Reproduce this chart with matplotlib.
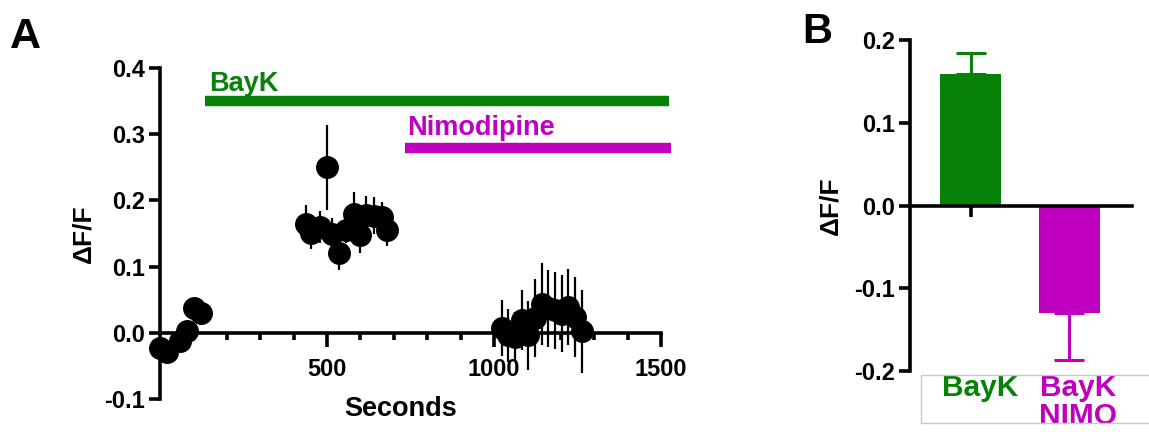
import numpy as np
import matplotlib.pyplot as plt
from matplotlib.patches import Rectangle

plt.rcParams['font.family'] = ['Liberation Sans', 'DejaVu Sans']
plt.rcParams['font.weight'] = 'bold'
plt.rcParams['axes.unicode_minus'] = False

GREEN = '#078107'
MAGENTA = '#bf00bf'

# panel A: time course (seconds, dF/F, sem)
t_base = [0, 20, 60, 80, 103, 124]
y_base = [-0.023, -0.029, -0.013, 0.002, 0.038, 0.030]

t_bayk = [437, 452, 480, 500, 516, 537, 558, 580, 600, 618, 640, 664, 680]
y_bayk = [0.164, 0.150, 0.160, 0.250, 0.149, 0.120, 0.156, 0.180, 0.148, 0.178, 0.177, 0.175, 0.156]
e_bayk = [0.029, 0.023, 0.024, 0.064, 0.025, 0.025, 0.020, 0.033, 0.028, 0.028, 0.028, 0.023, 0.025]

t_nimo = [1023, 1043, 1063, 1083, 1103, 1123, 1143, 1163, 1183, 1203, 1223, 1243, 1263]
y_nimo = [0.007, -0.004, -0.006, 0.019, -0.004, 0.022, 0.044, 0.037, 0.034, 0.029, 0.039, 0.024, 0.002]
e_nimo = [0.042, 0.040, 0.038, 0.045, 0.052, 0.059, 0.062, 0.058, 0.058, 0.058, 0.058, 0.060, 0.062]

# drug application bars: (start, end, level)
bayk_bar = (136, 1525, 0.350)
nimo_bar = (733, 1530, 0.279)

# panel B: summary
groups = ['BayK', 'BayK\nNIMO']
means = [0.159, -0.130]
sems = [0.025, 0.057]
colors = [GREEN, MAGENTA]

fig = plt.figure(figsize=(11.49, 4.32), dpi=100)

# ---------- panel A ----------
ax = fig.add_axes([0.1393, 0.0764, 0.4447, 0.7662])
ax.set_xlim(0, 1530)
ax.set_ylim(-0.1, 0.4)

for t, y in [(t_base, y_base), (t_bayk, y_bayk), (t_nimo, y_nimo)]:
    ax.plot(t, y, 'o', color='black', ms=15.5, clip_on=False, zorder=3)
ax.errorbar(t_bayk, y_bayk, yerr=e_bayk, fmt='none', ecolor='black', elinewidth=1.6, capsize=0, zorder=2)
ax.errorbar(t_nimo, y_nimo, yerr=e_nimo, fmt='none', ecolor='black', elinewidth=1.6, capsize=0, zorder=2)

ax.plot(bayk_bar[:2], [bayk_bar[2]] * 2, color=GREEN, lw=7.5, solid_capstyle='butt', clip_on=False)
ax.plot(nimo_bar[:2], [nimo_bar[2]] * 2, color=MAGENTA, lw=7.5, solid_capstyle='butt', clip_on=False)
ax.text(bayk_bar[0] + 12, bayk_bar[2] + 0.015, 'BayK', color=GREEN, fontsize=19.5, fontweight='bold')
ax.text(nimo_bar[0] + 8, nimo_bar[2] + 0.02, 'Nimodipine', color=MAGENTA, fontsize=19.5, fontweight='bold')

ax.spines['top'].set_visible(False)
ax.spines['right'].set_visible(False)
ax.spines['bottom'].set_position(('data', 0))
ax.spines['bottom'].set_bounds(0, 1500)
ax.spines['left'].set_bounds(-0.1, 0.4)
for s in ['left', 'bottom']:
    ax.spines[s].set_linewidth(2.6)

ax.set_xticks([500, 1000, 1500])
ax.set_xticks(np.arange(100, 1500, 100), minor=True)
ax.set_yticks([-0.1, 0.0, 0.1, 0.2, 0.3, 0.4])
ax.set_yticklabels(['-0.1', '0.0', '0.1', '0.2', '0.3', '0.4'])
ax.tick_params(axis='x', which='major', length=10, width=2.6, labelsize=17, pad=8)
ax.tick_params(axis='x', which='minor', length=5, width=2.6)
ax.tick_params(axis='y', length=8, width=2.6, labelsize=17, pad=3)
ax.set_xlabel('Seconds', fontsize=19.5, fontweight='bold')
ax.set_ylabel('\u0394F/F', fontsize=19, fontweight='bold', labelpad=6)
ax.xaxis.set_label_coords(0.47, 0.01)

fig.text(0.009, 0.89, 'A', fontsize=31, fontweight='bold')

# ---------- panel B ----------
bx = fig.add_axes([0.792, 0.1412, 0.1932, 0.7662])
xpos = np.arange(len(groups))
bx.bar(xpos, means, width=0.62, color=colors, zorder=2)
for i in range(len(groups)):
    if means[i] >= 0:
        err = [[0], [sems[i]]]
    else:
        err = [[sems[i]], [0]]
    bx.errorbar(xpos[i], means[i], yerr=err, fmt='none', ecolor=colors[i], elinewidth=2.2, capsize=11, capthick=2.2, zorder=1)
bx.set_xlim(-0.62, 1.64)
bx.set_ylim(-0.2, 0.2)
bx.spines['top'].set_visible(False)
bx.spines['right'].set_visible(False)
bx.spines['bottom'].set_position(('data', 0))
bx.spines['left'].set_bounds(-0.2, 0.2)
for s in ['left', 'bottom']:
    bx.spines[s].set_linewidth(2.6)
    bx.spines[s].set_zorder(3)
bx.set_xticks(xpos)
bx.set_xticklabels([])
bx.set_yticks([-0.2, -0.1, 0.0, 0.1, 0.2])
bx.set_yticklabels(['-0.2', '-0.1', '0.0', '0.1', '0.2'])
bx.tick_params(axis='x', length=8, width=2.6)
bx.tick_params(axis='y', length=8, width=2.6, labelsize=17, pad=3)
bx.set_ylabel('\u0394F/F', fontsize=19, fontweight='bold', labelpad=8)

for i in range(len(groups)):
    bx.text(xpos[i] + 0.09, -0.2035, groups[i], color=colors[i], fontsize=21.5, fontweight='bold',
            ha='center', va='top', linespacing=1.0, clip_on=False)

fig.patches.append(Rectangle((0.8016, 0.0208), 0.25, 0.111, transform=fig.transFigure,
                             fill=False, edgecolor='#c8c8c8', lw=1.0))
fig.text(0.698, 0.9, 'B', fontsize=30, fontweight='bold')

fig.savefig('out.png', dpi=100)
